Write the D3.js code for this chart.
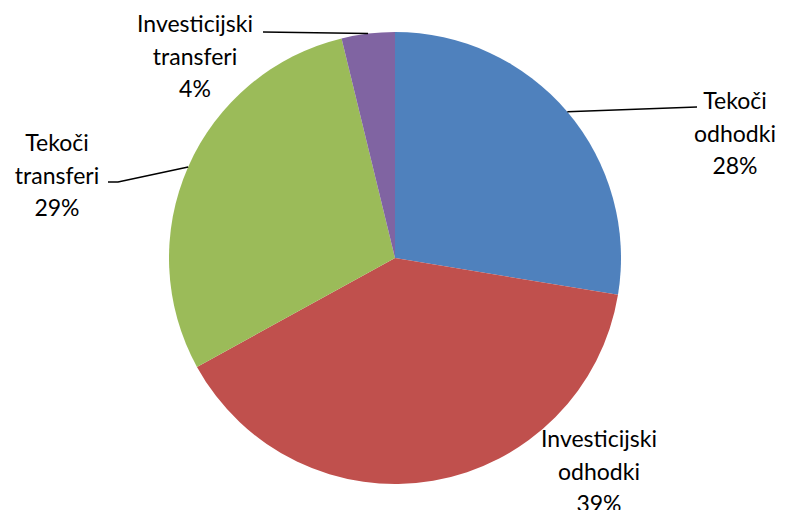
<!DOCTYPE html>
<html>
<head>
<meta charset="utf-8">
<script src="https://cdn.jsdelivr.net/npm/d3@7"></script>
<style>
  body { margin: 0; background: #fff; }
</style>
</head>
<body>
<div id="chart"></div>
<script>
// Data ----------------------------------------------------------------------------------------------------------------
const categories = ["Tekoči odhodki", "Investicijski odhodki", "Tekoči transferi", "Investicijski transferi"];
const labelLines = [["Tekoči", "odhodki"], ["Investicijski", "odhodki"], ["Tekoči", "transferi"], ["Investicijski", "transferi"]];
const shares = [27.6, 39.4, 29.2, 3.8];
const percentLabels = ["28%", "39%", "29%", "4%"];
const colors = ["#4F81BD", "#C0504D", "#9BBB59", "#8064A2"];

// Canvas ----------------------------------------------------------------------------------------------------------------
const canvasWidth = 786;
const canvasHeight = 510;
const cx = 395;
const cy = 258;
const radius = 226;

const fontSize = 23;
const lineHeight = 32.5;

// label anchor (centre x, first baseline y) and leader line end points
const labelPos = [
  { x: 735, y: 109, leader: [[697, 107]] },
  { x: 599, y: 447, leader: null },
  { x: 57, y: 151, leader: [[118, 182], [108, 182]] },
  { x: 195, y: 32, leader: [[263, 32]] }
];

const svg = d3.select("#chart")
  .append("svg")
  .attr("width", canvasWidth)
  .attr("height", canvasHeight)
  .style("font-family", "Lato, 'Open Sans', sans-serif");

const pie = d3.pie()
  .sort(null)
  .value(d => d);

const arcs = pie(shares);

const arc = d3.arc()
  .innerRadius(0)
  .outerRadius(radius);

const pieGroup = svg.append("g")
  .attr("transform", "translate(" + cx + "," + cy + ")");

pieGroup.selectAll("path")
  .data(arcs)
  .join("path")
  .attr("d", arc)
  .attr("fill", (d, i) => colors[i]);

// Leader lines ------------------------------------------------------------------------------------------------------------
arcs.forEach(function(d, i) {
  const pos = labelPos[i];
  if (!pos.leader) return;
  const mid = (d.startAngle + d.endAngle) / 2;
  const start = [cx + radius * Math.sin(mid), cy - radius * Math.cos(mid)];
  svg.append("path")
    .attr("d", d3.line()([start].concat(pos.leader)))
    .attr("fill", "none")
    .style("stroke", "black")
    .style("stroke-width", 1.5);
});

// Labels -----------------------------------------------------------------------------------------------------------------
arcs.forEach(function(d, i) {
  const pos = labelPos[i];
  const text = svg.append("text")
    .attr("text-anchor", "middle")
    .style("font-size", fontSize + "px")
    .attr("fill", "black");
  labelLines[i].concat([percentLabels[i]]).forEach(function(line, j) {
    text.append("tspan")
      .attr("x", pos.x)
      .attr("y", pos.y + j * lineHeight)
      .text(line);
  });
});
</script>
</body>
</html>
